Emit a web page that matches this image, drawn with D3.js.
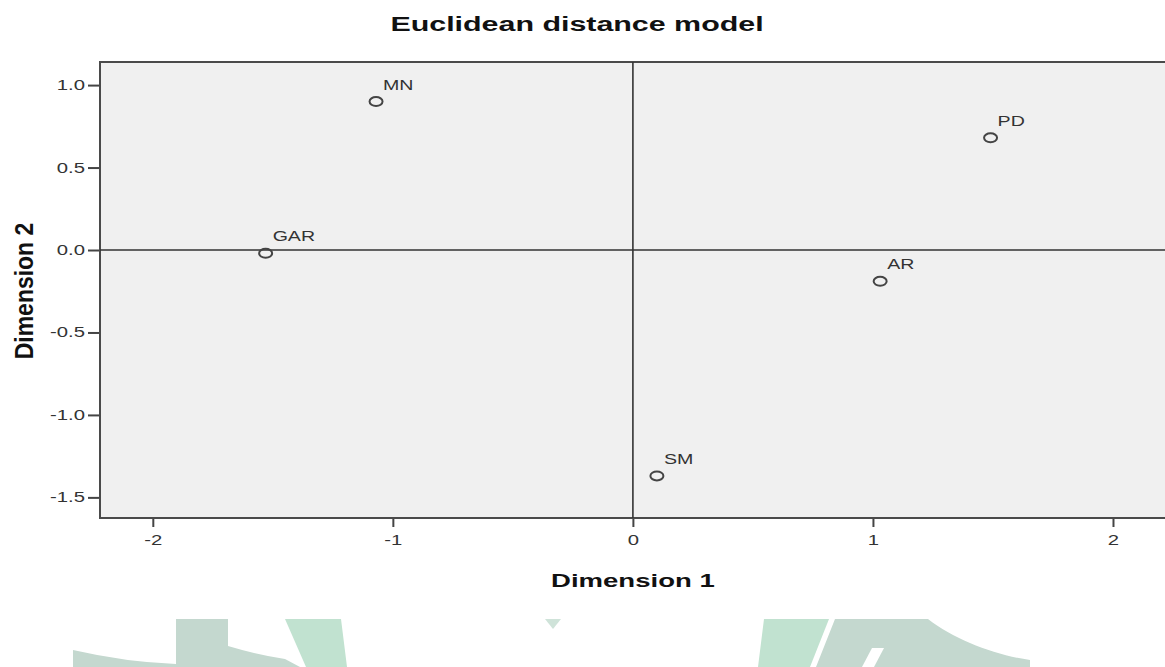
<!doctype html>
<html lang="en">
<head>
  <meta charset="UTF-8">
  <title>Euclidean distance model</title>
  <style>
    body { margin: 0; background: #fff; }
    #app { width: 1165px; height: 667px; overflow: hidden; }
    text { font-family: "Liberation Sans", Arial, sans-serif; }
    .axis path { display: none; }
    .axis line { stroke: #444; stroke-width: 2; }
    .axis text { fill: #333; font-size: 14px; }
  </style>
</head>
<body>
<div id="app"></div>
<script src="https://cdn.jsdelivr.net/npm/d3@7/dist/d3.min.js"></script>
<script>
  // stimulus coordinates
  var labels = ['MN', 'GAR', 'PD', 'AR', 'SM'];
  var dim1 = [-1.07, -1.53, 1.49, 1.03, 0.10];
  var dim2 = [0.90, -0.02, 0.68, -0.19, -1.37];

  var xTicks = [-2, -1, 0, 1, 2];
  var yTicks = [-1.5, -1.0, -0.5, 0.0, 0.5, 1.0];

  var width = 1165;
  var height = 667;
  var plotLeft = 100, plotTop = 62, plotBottom = 518;
  var SX = 1.45; // the source picture is stretched sideways

  var x = d3.scaleLinear().domain([-2.22, 2.25]).range([plotLeft, plotLeft + 1073]);
  var y = d3.scaleLinear().domain([-1.625, 1.14]).range([plotBottom, plotTop]);
  var plotRight = x.range()[1];

  var svg = d3.select('#app')
              .append('svg')
              .attr('width', width)
              .attr('height', height);

  // faint logo watermark below the chart
  var wm = svg.append('g').attr('class', 'watermark');
  wm.append('path').attr('fill', '#c4d8cf')
    .attr('d', 'M73,650 Q125,662 176,664 L176,619 L228,619 L228,646 Q258,655 285,659 L300,667 L73,667 Z');
  wm.append('path').attr('fill', '#c1e2d0')
    .attr('d', 'M285,619 L341,619 L347,667 L306,667 Z');
  wm.append('path').attr('fill', '#cfe3d9')
    .attr('d', 'M545,619 L561,619 L553,629 Z');
  wm.append('path').attr('fill', '#c1e2d0')
    .attr('d', 'M764,619 L829,619 L810,667 L758,667 Z');
  wm.append('path').attr('fill', '#c4d8cf')
    .attr('d', 'M835,619 L928,619 C955,640 995,655 1030,660 L1030,667 L816,667 Z');
  wm.append('path').attr('fill', '#fff')
    .attr('d', 'M872,648 L884,648 L874,667 L862,667 Z');

  // plot background
  svg.append('rect')
    .attr('x', plotLeft)
    .attr('y', plotTop)
    .attr('width', plotRight - plotLeft)
    .attr('height', plotBottom - plotTop)
    .attr('fill', '#f0f0f0');

  // axes
  var yAxis = svg.append('g')
    .attr('class', 'axis')
    .attr('transform', 'translate(' + plotLeft + ',0)')
    .call(d3.axisLeft(y).tickValues(yTicks).tickSize(12).tickSizeOuter(0)
      .tickFormat(d => d.toFixed(1)));
  yAxis.selectAll('text')
    .attr('x', -15 / SX)
    .attr('transform', 'scale(' + SX + ',1)');

  var xAxis = svg.append('g')
    .attr('class', 'axis')
    .attr('transform', 'translate(0,' + plotBottom + ')')
    .call(d3.axisBottom(x).tickValues(xTicks).tickSize(9).tickSizeOuter(0)
      .tickFormat(d => String(d)));
  xAxis.selectAll('text')
    .attr('y', 17)
    .attr('transform', 'scale(' + SX + ',1)');

  // frame (top, left, bottom; the right side runs off the picture)
  svg.append('path')
    .attr('d', 'M' + plotRight + ',' + plotTop + 'H' + plotLeft + 'V' + plotBottom + 'H' + plotRight)
    .attr('fill', 'none')
    .attr('stroke', '#4a4a4a')
    .attr('stroke-width', 2);

  // reference lines at the origin
  svg.append('line')
    .attr('x1', x(0)).attr('x2', x(0))
    .attr('y1', plotTop).attr('y2', plotBottom)
    .attr('stroke', '#333')
    .attr('stroke-width', 1.6);
  svg.append('line')
    .attr('x1', plotLeft).attr('x2', plotRight)
    .attr('y1', y(0)).attr('y2', y(0))
    .attr('stroke', '#333')
    .attr('stroke-width', 1.6);

  var points = labels.map((d, i) => ({ name: d, d1: dim1[i], d2: dim2[i] }));

  svg.selectAll('ellipse.point')
    .data(points)
    .enter()
    .append('ellipse')
    .attr('class', 'point')
    .attr('cx', d => x(d.d1))
    .attr('cy', d => y(d.d2))
    .attr('rx', 6.5)
    .attr('ry', 4.5)
    .attr('fill', 'none')
    .attr('stroke', '#444')
    .attr('stroke-width', 2);

  svg.selectAll('text.point-label')
    .data(points)
    .enter()
    .append('text')
    .attr('class', 'point-label')
    .attr('transform', d => 'translate(' + (x(d.d1) + 7) + ',' + (y(d.d2) - 12) + ') scale(1.4,1)')
    .attr('font-size', 14)
    .attr('fill', '#333')
    .text(d => d.name);

  // titles
  svg.append('text')
    .attr('transform', 'translate(577,31) scale(1.52,1)')
    .attr('text-anchor', 'middle')
    .attr('font-size', 20)
    .attr('font-weight', 'bold')
    .attr('fill', '#111')
    .text('Euclidean distance model');

  svg.append('text')
    .attr('transform', 'translate(' + x(0) + ',587) scale(' + SX + ',1)')
    .attr('text-anchor', 'middle')
    .attr('font-size', 19)
    .attr('font-weight', 'bold')
    .attr('fill', '#111')
    .text('Dimension 1');

  svg.append('text')
    .attr('transform', 'translate(33,291) scale(1.15,1) rotate(-90)')
    .attr('text-anchor', 'middle')
    .attr('font-size', 23)
    .attr('font-weight', 'bold')
    .attr('fill', '#111')
    .text('Dimension 2');
</script>
</body>
</html>
